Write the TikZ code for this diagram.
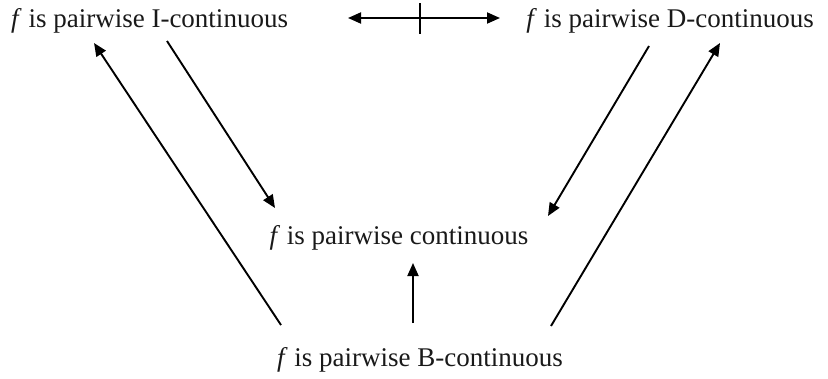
\documentclass[tikz,border=0pt]{standalone}
\usepackage{fontspec}
\setmainfont{Liberation Serif}
\usetikzlibrary{arrows.meta}
\begin{document}
\begin{tikzpicture}[x=1pt,y=-1pt,
  lbl/.style={inner sep=0pt, text=black!90, font=\fontsize{27}{31}\selectfont},
  imp/.style={line width=1.9pt, -{Triangle[length=13pt,width=11pt]}},
  both/.style={line width=1.9pt, {Triangle[length=13pt,width=11pt]}-{Triangle[length=13pt,width=11pt]}}]
\useasboundingbox (0,0) rectangle (828,378);

% statements
\node[lbl, anchor=base west] (I) at (11,27) {\textit{f} is pairwise I-continuous};
\node[lbl, anchor=base east] (D) at (814,27) {\textit{f} is pairwise D-continuous};
\node[lbl, anchor=base] (C) at (399,244) {\textit{f} is pairwise continuous};
\node[lbl, anchor=base] (B) at (420,366) {\textit{f} is pairwise B-continuous};

% arrow end points
\coordinate (Ibot) at (94,43);
\coordinate (Iout) at (167,41);
\coordinate (Dout) at (649,46);
\coordinate (Dbot) at (720,43);
\coordinate (Cl) at (275,208);
\coordinate (Cr) at (548,216);
\coordinate (Cb) at (413,263);
\coordinate (Bl) at (281,325);
\coordinate (Br) at (551,326);
\coordinate (Bm) at (413,323);
\coordinate (Ir) at (348,18);
\coordinate (Dl) at (500,18);
\coordinate (Xt) at (420,3);
\coordinate (Xb) at (420,34);

% implications
\draw[imp] (Bl) -- (Ibot);
\draw[imp] (Iout) -- (Cl);
\draw[imp] (Dout) -- (Cr);
\draw[imp] (Br) -- (Dbot);
\draw[imp] (Bm) -- (Cb);

% no equivalence between I- and D-continuity
\draw[both] (Ir) -- (Dl);
\draw[line width=1.9pt] (Xt) -- (Xb);
\end{tikzpicture}
\end{document}
